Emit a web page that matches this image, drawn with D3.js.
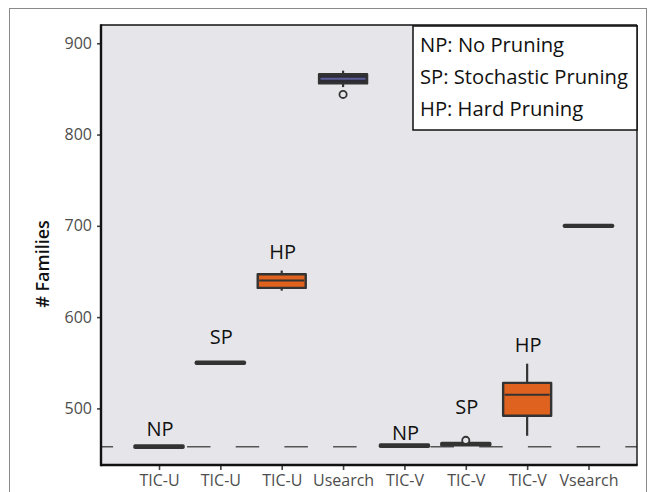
<!DOCTYPE html>
<html>
<head>
<meta charset="utf-8">
<script src="https://cdn.jsdelivr.net/npm/d3@7"></script>
<style>
  html, body { margin: 0; padding: 0; background: #fff; }
  svg { display: block; font-family: "Open Sans", "Noto Sans", sans-serif; }
</style>
</head>
<body>
<svg id="chart" width="652" height="492"></svg>
<script>
// Number of families found by each clustering method
const categories = ["TIC-U", "TIC-U", "TIC-U", "Usearch", "TIC-V", "TIC-V", "TIC-V", "Vsearch"];
const methodTags = ["NP", "SP", "HP", "", "NP", "SP", "HP", ""];
const whiskerLow  = [457.5, 549.5, 629, 852, 458.5, 460,   470, 699.5];
const quartile1   = [457.5, 549.5, 632, 856, 458.5, 460,   492, 699.5];
const medians     = [458,   550,   640, 861, 459,   461,   515, 700];
const quartile3   = [459,   550.5, 647, 866, 460,   461.5, 528, 700.5];
const whiskerHigh = [459,   550.5, 651, 870, 460,   461.5, 549, 700.5];
const outliers    = [[], [], [], [844], [], [465], [], []];
const referenceLevel = 458;
const yTicks = [500, 600, 700, 800, 900];
const legendLines = ["NP: No Pruning", "SP: Stochastic Pruning", "HP: Hard Pruning"];

const svg = d3.select("#chart");

// outer frame
svg.append("rect")
  .attr("x", 9.5).attr("y", 8.5).attr("width", 637).attr("height", 500)
  .attr("fill", "none").attr("stroke", "#8a8a8a").attr("stroke-width", 1);

const panel = { left: 101, right: 637, top: 25, bottom: 465 };

const y = d3.scaleLinear().domain([438, 920]).range([panel.bottom, panel.top]);
const x = d3.scalePoint().domain(d3.range(categories.length)).range([159, 588.5]);
const boxW = 48;

svg.append("rect")
  .attr("x", panel.left).attr("y", panel.top)
  .attr("width", panel.right - panel.left).attr("height", panel.bottom - panel.top)
  .attr("fill", "#e6e6ea");

// dashed reference line
svg.append("line")
  .attr("x1", panel.left).attr("x2", panel.right)
  .attr("y1", y(referenceLevel)).attr("y2", y(referenceLevel))
  .attr("stroke", "#555").attr("stroke-width", 1.6)
  .attr("stroke-dasharray", "23.5,25.2").attr("stroke-dashoffset", 11.4);

const boxFill   = i => methodTags[i] === "HP" ? "#e0621f" : (categories[i] === "Usearch" ? "#2c2c36" : "#333");
const medColour = i => categories[i] === "Usearch" ? "#5c5c98" : "#333";

const boxes = svg.append("g").selectAll("g").data(d3.range(categories.length)).join("g");

// whiskers
boxes.append("line")
  .attr("x1", i => x(i)).attr("x2", i => x(i))
  .attr("y1", i => y(whiskerHigh[i])).attr("y2", i => y(quartile3[i]))
  .attr("stroke", "#333").attr("stroke-width", 2.2);
boxes.append("line")
  .attr("x1", i => x(i)).attr("x2", i => x(i))
  .attr("y1", i => y(quartile1[i])).attr("y2", i => y(whiskerLow[i]))
  .attr("stroke", "#333").attr("stroke-width", 2.2);

// box bodies drawn as paths so that flat boxes still show as a line
boxes.append("path")
  .attr("d", i => {
    const p = d3.path();
    const x0 = x(i) - boxW / 2, y0 = y(quartile3[i]), y1 = y(quartile1[i]);
    p.moveTo(x0, y0); p.lineTo(x0 + boxW, y0); p.lineTo(x0 + boxW, y1); p.lineTo(x0, y1); p.closePath();
    return p.toString();
  })
  .attr("fill", boxFill).attr("stroke", "#333")
  .attr("stroke-width", i => (y(quartile1[i]) - y(quartile3[i]) < 3 ? 3.4 : 2.4))
  .attr("stroke-linejoin", "round");

// medians
boxes.append("line")
  .attr("x1", i => x(i) - boxW / 2 + 1.5).attr("x2", i => x(i) + boxW / 2 - 1.5)
  .attr("y1", i => y(medians[i])).attr("y2", i => y(medians[i]))
  .attr("stroke", medColour).attr("stroke-width", 2);

// outliers
boxes.selectAll("circle").data(i => outliers[i].map(v => ({ i, v }))).join("circle")
  .attr("cx", d => x(d.i)).attr("cy", d => y(d.v)).attr("r", 3.6)
  .attr("fill", "#e6e6ea").attr("stroke", "#333").attr("stroke-width", 1.8);

// method tags above the boxes
const tagNudge = [2, -6, 0, 0, 7, -10, 0, 0];
boxes.filter(i => methodTags[i]).append("text")
  .attr("x", i => x(i) + 1)
  .attr("y", i => y(Math.max(whiskerHigh[i], ...outliers[i])) - 12 - (outliers[i].length ? 4 : 0) + tagNudge[i])
  .attr("text-anchor", "middle")
  .attr("font-size", 20).attr("fill", "#111")
  .text(i => methodTags[i]);

// panel border: thin top/right, heavier axes
svg.append("line").attr("x1", panel.left).attr("x2", panel.right).attr("y1", panel.top).attr("y2", panel.top)
  .attr("stroke", "#111").attr("stroke-width", 1.4);
svg.append("line").attr("x1", panel.right).attr("x2", panel.right).attr("y1", panel.top).attr("y2", panel.bottom)
  .attr("stroke", "#111").attr("stroke-width", 1.4);

const yAxis = svg.append("g").attr("transform", `translate(${panel.left},0)`)
  .call(d3.axisLeft(y).tickValues(yTicks).tickSize(4).tickPadding(5));
const xAxis = svg.append("g").attr("transform", `translate(0,${panel.bottom})`)
  .call(d3.axisBottom(x).tickFormat(i => categories[i]).tickSize(5).tickPadding(5));

[yAxis, xAxis].forEach(g => {
  g.select(".domain").remove();
  g.selectAll(".tick line").attr("stroke", "#444").attr("stroke-width", 1.6);
  g.selectAll(".tick text").attr("fill", "#4d4d4d").attr("font-family", "Open Sans, sans-serif");
});
yAxis.selectAll(".tick text").attr("font-size", 16);
xAxis.selectAll(".tick text").attr("font-size", 16);

svg.append("line").attr("x1", panel.left).attr("x2", panel.left).attr("y1", panel.top - 0.7).attr("y2", panel.bottom + 1.2)
  .attr("stroke", "#111").attr("stroke-width", 2.4);
svg.append("line").attr("x1", panel.left).attr("x2", panel.right + 0.7).attr("y1", panel.bottom).attr("y2", panel.bottom)
  .attr("stroke", "#111").attr("stroke-width", 2.4);

// y axis title
svg.append("text")
  .attr("transform", `translate(49,${(panel.top + panel.bottom) / 2 + 19}) rotate(-90)`)
  .attr("text-anchor", "middle").attr("font-size", 18).attr("font-weight", 600).attr("fill", "#111")
  .text("# Families");

// legend
const legend = svg.append("g");
legend.append("rect")
  .attr("x", 413).attr("y", 26).attr("width", 224).attr("height", 104)
  .attr("fill", "#fff").attr("stroke", "#111").attr("stroke-width", 1.5);
legend.selectAll("text").data(legendLines).join("text")
  .attr("x", 420).attr("y", (d, k) => 52 + k * 32)
  .attr("font-size", 20.2).attr("fill", "#111")
  .text(d => d);
</script>
</body>
</html>
